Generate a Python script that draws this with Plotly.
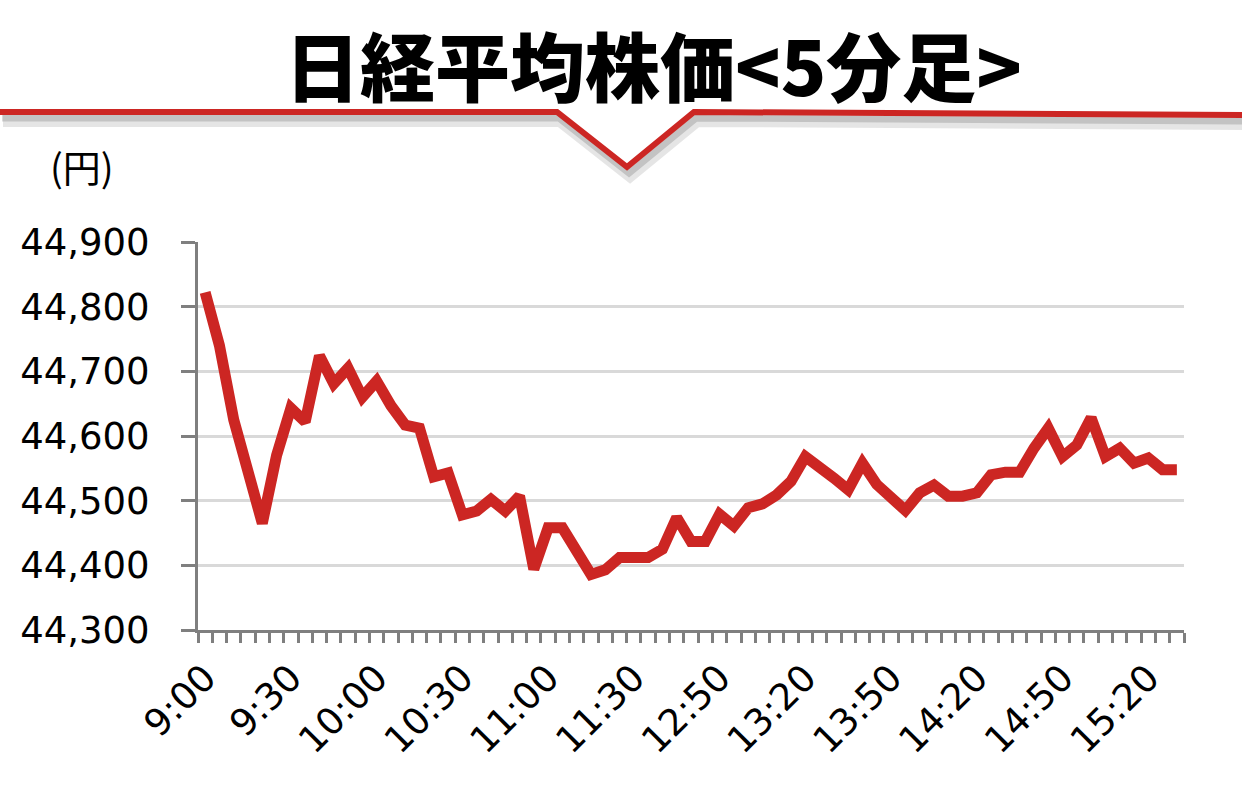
import plotly.graph_objects as go

# 5分足の時刻（前場 9:00-11:30, 後場 12:25-15:30）
times = [
    "9:00", "9:05", "9:10", "9:15", "9:20", "9:25", "9:30", "9:35", "9:40", "9:45",
    "9:50", "9:55", "10:00", "10:05", "10:10", "10:15", "10:20", "10:25", "10:30", "10:35",
    "10:40", "10:45", "10:50", "10:55", "11:00", "11:05", "11:10", "11:15", "11:20", "11:25",
    "11:30",
    "12:25", "12:30", "12:35", "12:40", "12:45", "12:50", "12:55", "13:00", "13:05",
    "13:10", "13:15", "13:20", "13:25", "13:30", "13:35", "13:40", "13:45", "13:50", "13:55",
    "14:00", "14:05", "14:10", "14:15", "14:20", "14:25", "14:30", "14:35", "14:40", "14:45",
    "14:50", "14:55", "15:00", "15:05", "15:10", "15:15", "15:20", "15:25", "15:30",
]

prices = [
    44822, 44740, 44625, 44545, 44465, 44570, 44643, 44622, 44724, 44681,
    44705, 44660, 44685, 44647, 44617, 44612, 44537, 44543, 44478, 44484,
    44502, 44484, 44507, 44394, 44458, 44458, 44421, 44386, 44393, 44412,
    44412, 44412, 44425, 44474, 44437, 44437, 44479, 44461, 44489, 44495,
    44509, 44530, 44568, 44553, 44535, 44517, 44558, 44525, 44507, 44485,
    44512, 44524, 44507, 44507, 44512, 44540, 44544, 44544, 44581, 44612,
    44568, 44586, 44628, 44568, 44581, 44558, 44566, 44548, 44548,
]

y_ticks = [44300, 44400, 44500, 44600, 44700, 44800, 44900]
label_every = 6

RED = "#cc2623"
GRAY = "#7f7f7f"
GRID = "#d9d9d9"
TICK_FONT = dict(family="DejaVu Sans", size=37, color="black")

W, H = 1242, 787
L, R, T, B = 198, 58, 242, 157
pw, ph = W - L - R, H - T - B


def px(x):
    return (x - L) / pw


def py(y):
    return (H - B - y) / ph


n = len(times)
xs = list(range(n))

fig = go.Figure()
fig.add_trace(go.Scatter(
    x=xs,
    y=prices,
    mode="lines",
    line=dict(color=RED, width=11),
    text=times,
    hovertemplate="%{text}: %{y:,}円<extra></extra>",
    showlegend=False,
))

fig.update_xaxes(
    range=[-0.5, n - 0.5],
    tickmode="array",
    tickvals=xs[::label_every],
    ticktext=times[::label_every],
    tickangle=-45,
    ticks="",
    ticklabelstandoff=8,
    showgrid=False,
    zeroline=False,
    showline=True,
    linecolor=GRAY,
    linewidth=3,
    tickfont=TICK_FONT,
    minor=dict(
        tickmode="array",
        tickvals=[i - 0.5 for i in range(n + 1)],
        ticks="outside",
        ticklen=10,
        tickwidth=3,
        tickcolor=GRAY,
        showgrid=False,
    ),
)

fig.update_yaxes(
    range=[y_ticks[0], y_ticks[-1]],
    tickmode="array",
    tickvals=y_ticks,
    tickformat=",",
    ticks="outside",
    ticklen=14,
    tickwidth=3,
    tickcolor=GRAY,
    ticklabelstandoff=24,
    showline=True,
    linecolor=GRAY,
    linewidth=3,
    showgrid=True,
    gridcolor=GRID,
    gridwidth=3,
    zeroline=False,
    tickfont=TICK_FONT,
)

# 見出しの赤いライン（V字）と影
deco = [(0, 112), (557, 112), (627, 167), (694, 112), (1242, 115)]


def path_of(pts, dx=0, dy=0):
    return "M " + " L ".join(f"{px(x + dx):.5f},{py(y + dy):.5f}" for x, y in pts)


shapes = [
    dict(type="path", path=path_of(deco, 3, 9), xref="paper", yref="paper",
         line=dict(color="rgba(0,0,0,0.10)", width=12), layer="above"),
    dict(type="path", path=path_of(deco, 2, 6), xref="paper", yref="paper",
         line=dict(color="rgba(0,0,0,0.15)", width=7), layer="above"),
    dict(type="path", path=path_of(deco), xref="paper", yref="paper",
         line=dict(color=RED, width=6), layer="above"),
]

annotations = [
    dict(text="日経平均株価<5分足>", x=px(653), y=py(63), xref="paper", yref="paper",
         xanchor="center", yanchor="middle", showarrow=False,
         font=dict(family="Noto Sans CJK JP", size=75, color="black", weight=900)),
    dict(text="(円)", x=px(82), y=py(165), xref="paper", yref="paper",
         xanchor="center", yanchor="middle", showarrow=False,
         font=dict(family="Noto Sans CJK JP", size=38, color="black")),
]

fig.update_layout(
    width=W,
    height=H,
    margin=dict(l=L, r=R, t=T, b=B, autoexpand=False),
    paper_bgcolor="white",
    plot_bgcolor="white",
    shapes=shapes,
    annotations=annotations,
    showlegend=False,
)

fig.write_html(
    "out.html",
    config={"displayModeBar": False},
    post_script="document.body.style.margin='0px';",
)
